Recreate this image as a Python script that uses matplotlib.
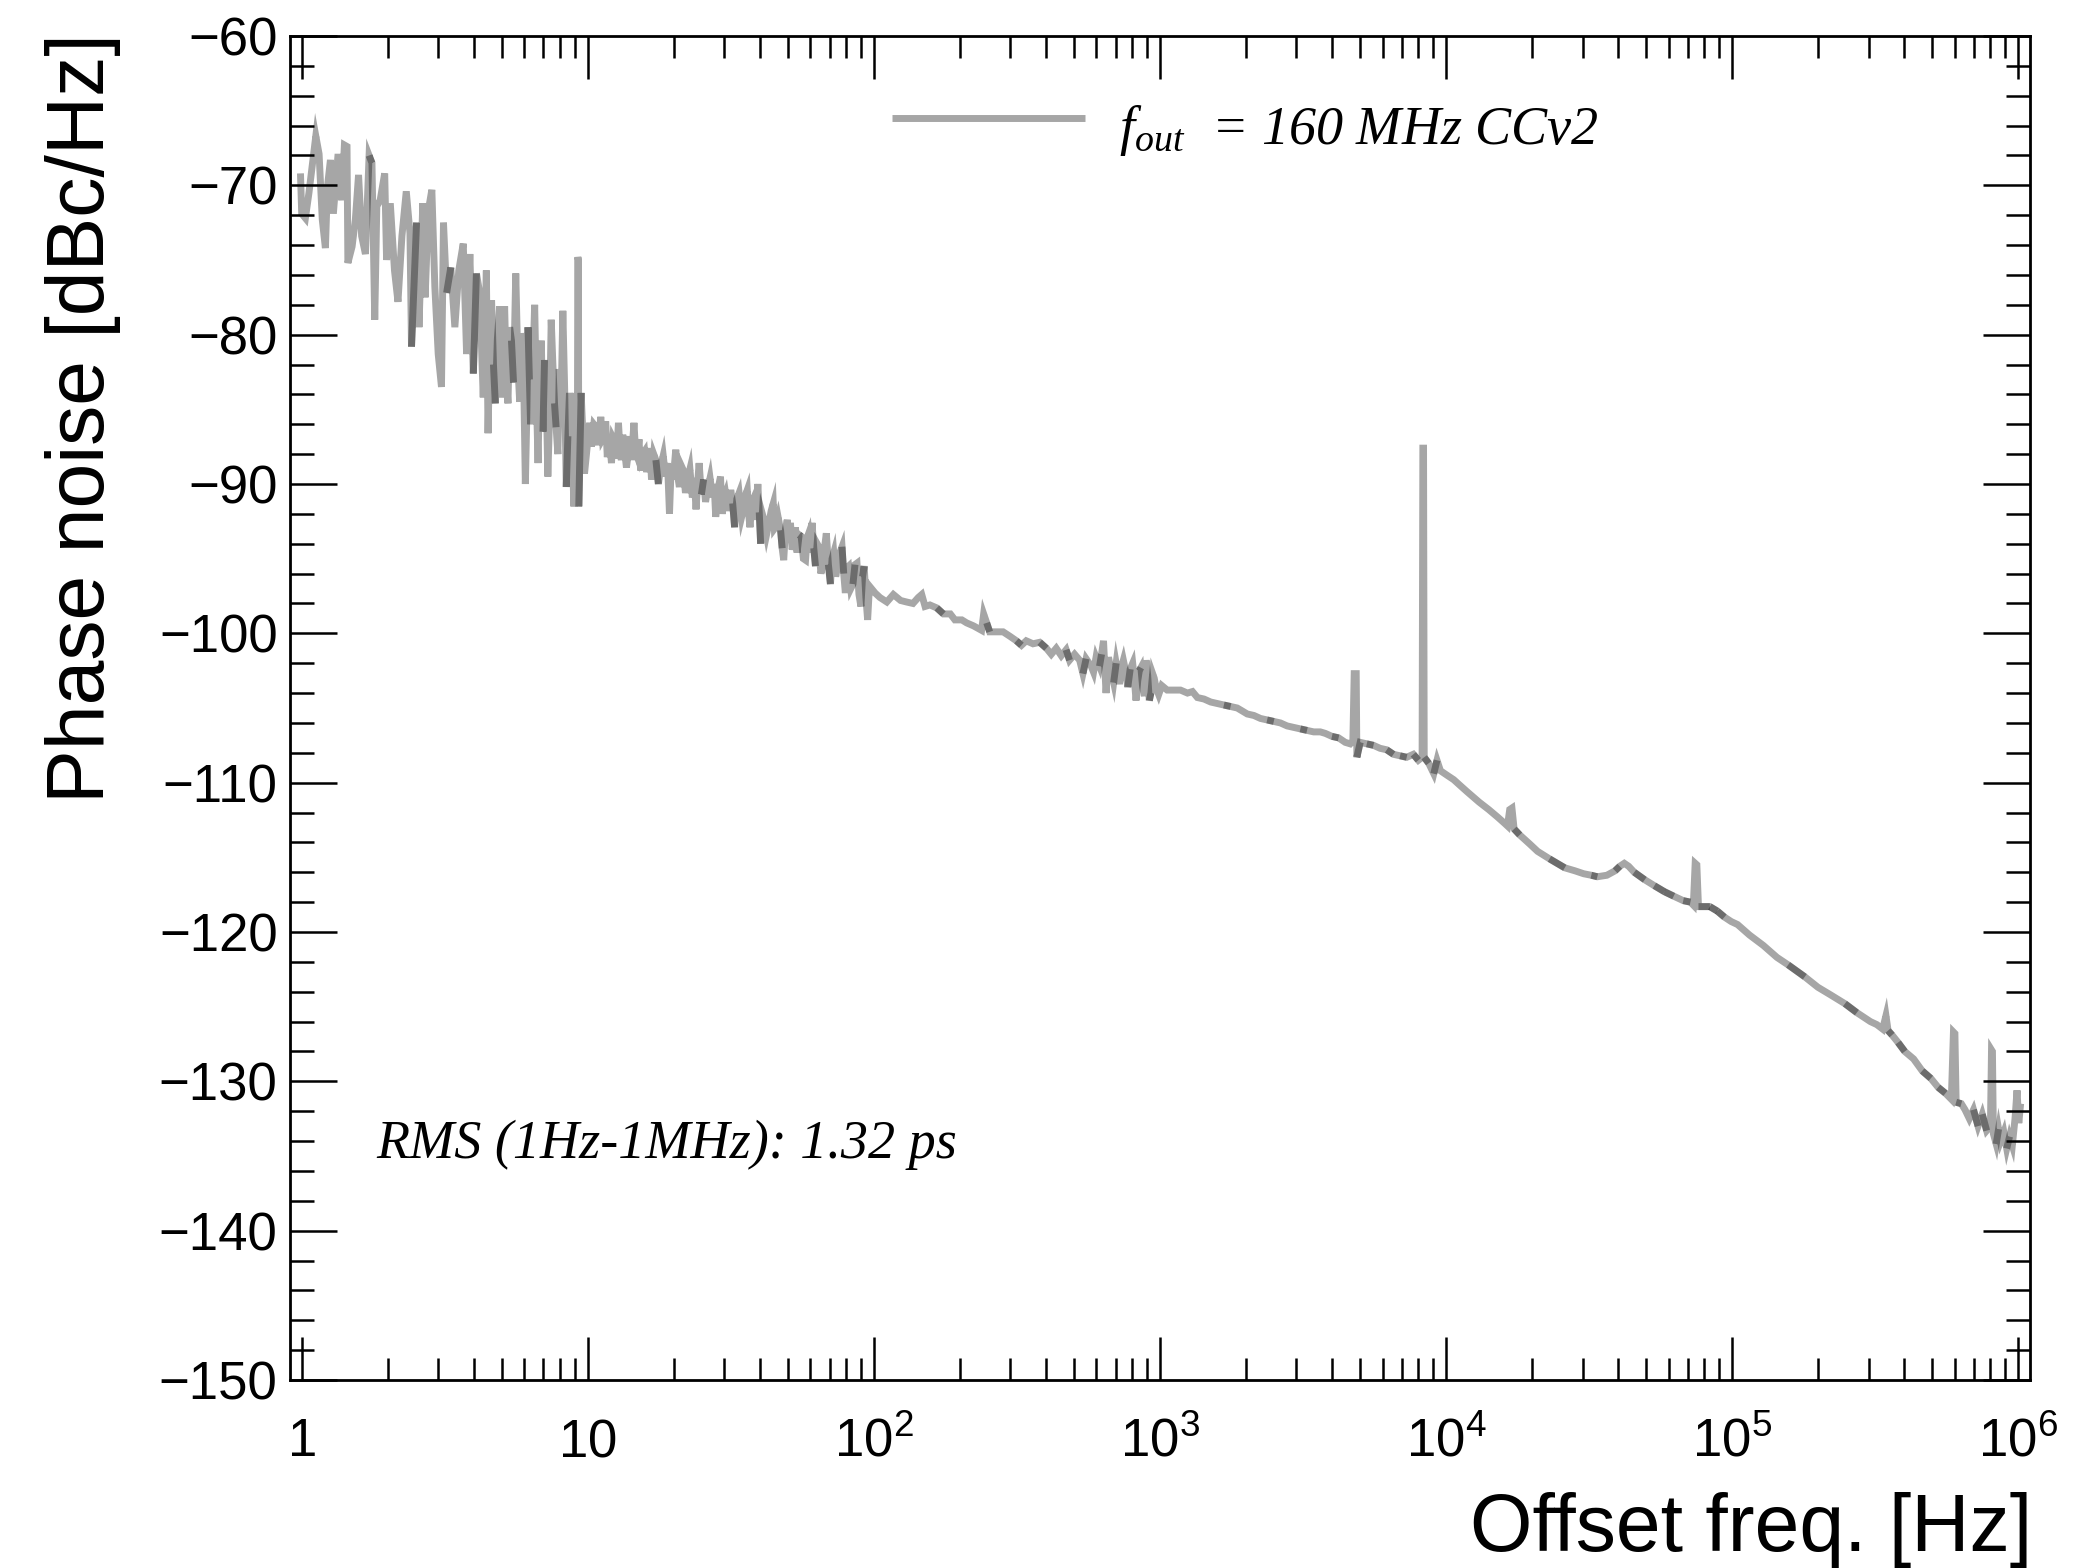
import numpy as np
import matplotlib
matplotlib.use("Agg")
import matplotlib.pyplot as plt
from matplotlib.lines import Line2D
from matplotlib.ticker import FixedLocator, FixedFormatter, LogLocator, NullFormatter, MultipleLocator

# ---------------- data ----------------
# 1 Hz - 10 Hz
freq_a = [0.99, 1.00, 1.03, 1.06, 1.12, 1.15, 1.18, 1.21, 1.23, 1.26,
          1.29, 1.34, 1.38, 1.41, 1.44, 1.45, 1.50, 1.54, 1.58, 1.62,
          1.67, 1.72, 1.76, 1.80, 1.83, 1.88, 1.95, 1.98, 2.04, 2.11,
          2.17, 2.24, 2.32, 2.39, 2.42, 2.52, 2.57, 2.65, 2.70, 2.77,
          2.85, 2.92, 3.00, 3.08, 3.13, 3.21, 3.32, 3.43, 3.54, 3.67,
          3.77, 3.87, 3.98, 4.08, 4.19, 4.31, 4.42, 4.48, 4.55, 4.61,
          4.68, 4.75, 4.83, 4.92, 4.99, 5.05, 5.12, 5.19, 5.26, 5.33,
          5.41, 5.50, 5.60, 5.70, 5.78, 5.86, 5.95, 6.05, 6.12, 6.18,
          6.25, 6.31, 6.42, 6.52, 6.61, 6.70, 6.79, 6.88, 6.97, 7.06,
          7.15, 7.25, 7.35, 7.45, 7.55, 7.65, 7.75, 7.86, 7.95, 8.05,
          8.18, 8.30, 8.41, 8.52, 8.63, 8.78, 8.94, 9.02, 9.11, 9.20,
          9.23, 9.27, 9.30, 9.48, 9.74]
pn_a = [-69.2, -71.9, -72.2, -70.5, -66.7, -67.9, -72.3, -74.2, -70.1, -68.3,
        -71.9, -67.9, -71.0, -67.3, -67.4, -75.2, -74.1, -72.3, -69.3, -73.4,
        -74.6, -68.0, -68.5, -79.0, -71.4, -71.0, -69.2, -75.0, -71.2, -75.7,
        -77.8, -73.4, -70.4, -73.2, -80.8, -72.5, -79.5, -71.2, -77.5, -71.7,
        -70.3, -76.8, -81.3, -83.5, -72.5, -77.2, -75.5, -79.5, -75.7, -73.9,
        -81.3, -74.6, -82.6, -75.9, -77.2, -84.2, -75.7, -86.6, -80.5, -77.7,
        -82.0, -84.6, -80.3, -78.1, -84.2, -81.0, -78.1, -82.8, -84.6, -79.5,
        -80.4, -83.2, -75.9, -82.2, -84.5, -79.9, -81.3, -90.0, -85.5, -79.5,
        -83.0, -86.0, -82.5, -78.0, -84.0, -88.6, -82.8, -80.4, -86.5, -81.7,
        -83.4, -89.5, -85.5, -79.0, -82.0, -84.6, -86.2, -88.0, -82.3, -85.6,
        -78.4, -83.6, -90.2, -86.8, -83.9, -86.0, -91.5, -88.0, -83.9, -86.5,
        -74.8, -75.0, -91.5, -83.9, -89.3]

# 10 Hz - 100 Hz
freq_b = [10.0, 10.15, 10.3, 10.5, 10.7, 10.9, 11.1, 11.25, 11.4, 11.55,
          11.7, 11.9, 12.1, 12.25, 12.4, 12.6, 12.8, 12.95, 13.1, 13.25,
          13.4, 13.65, 13.9, 14.05, 14.2, 14.35, 14.5, 14.7, 14.9, 15.1,
          15.3, 15.55, 15.8, 16.05, 16.3, 16.5, 16.7, 17.0, 17.3, 17.65,
          18.0, 18.35, 18.7, 19.0, 19.3, 19.55, 19.8, 20.05, 20.3, 20.6,
          20.9, 21.25, 21.6, 21.95, 22.3, 22.75, 23.2, 23.55, 23.9, 24.2,
          24.5, 24.95, 25.4, 25.8, 26.2, 26.75, 27.3, 27.65, 28.0, 28.55,
          29.1, 29.3, 29.5, 29.9, 30.3, 30.95, 31.6, 32.1, 32.6, 33.2,
          33.8, 34.5, 35.2, 35.65, 36.1, 36.5, 36.9, 37.5, 38.1, 38.7,
          39.3, 39.75, 40.2, 40.75, 41.3, 42.15, 43.0, 43.75, 44.5, 44.9,
          45.3, 46.25, 47.2, 47.8, 48.4, 49.1, 49.8, 50.45, 51.1, 51.8,
          52.5, 53.2, 53.9, 54.8, 55.7, 56.7, 57.7, 58.45, 59.2, 60.0,
          60.8, 61.65, 62.5, 63.35, 64.2, 65.3, 66.4, 67.3, 68.2, 69.35,
          70.5, 71.45, 72.4, 73.55, 74.7, 76.05, 77.4, 78.45, 79.5, 80.55,
          81.6, 83.05, 84.5, 85.9, 87.3, 88.7, 90.1, 91.3, 92.5, 93.8,
          95.1, 96.1, 97.1]
pn_b = [-87.1, -85.9, -87.5, -86.0, -86.2, -87.4, -85.5, -87.0, -86.8, -85.8,
        -88.2, -87.0, -88.6, -86.9, -87.1, -88.3, -85.9, -87.6, -88.4, -86.7,
        -87.5, -88.9, -87.7, -86.8, -88.4, -87.2, -85.9, -87.9, -88.2, -87.0,
        -89.1, -88.0, -87.8, -89.2, -88.4, -87.6, -89.7, -88.0, -88.4, -90.0,
        -88.8, -88.1, -89.5, -88.6, -92.0, -89.0, -89.7, -88.9, -87.7, -89.4,
        -90.2, -88.8, -89.1, -90.6, -89.7, -89.0, -90.9, -89.6, -91.7, -90.0,
        -88.6, -90.7, -89.7, -91.2, -90.4, -89.6, -90.9, -90.0, -92.2, -90.3,
        -89.5, -91.0, -92.0, -90.9, -90.6, -91.8, -90.4, -91.3, -92.9, -91.0,
        -90.6, -92.2, -91.5, -90.7, -90.4, -92.0, -92.9, -91.2, -90.9, -92.4,
        -90.0, -91.9, -94.0, -92.0, -92.4, -93.4, -92.6, -91.8, -91.3, -93.0,
        -92.9, -92.2, -93.1, -94.3, -95.1, -93.0, -92.4, -93.9, -92.6, -94.4,
        -93.8, -92.9, -94.6, -93.4, -93.5, -95.0, -95.1, -93.6, -93.3, -94.6,
        -92.6, -94.3, -95.5, -94.0, -94.2, -96.0, -95.3, -94.2, -93.3, -95.4,
        -96.7, -95.0, -94.6, -96.2, -95.5, -94.6, -94.2, -96.0, -97.3, -95.6,
        -95.5, -97.0, -96.7, -95.4, -95.3, -97.4, -98.2, -96.2, -95.5, -97.6,
        -99.1, -97.5, -96.9]

# 100 Hz - 1.1 kHz
freq_c = [101, 105, 111, 117, 124, 130, 137, 143, 147, 151,
          157, 166, 175, 185, 192, 203, 211, 223, 238, 242,
          248, 254, 268, 283, 299, 315, 328, 341, 360, 380,
          401, 417, 434, 452, 470, 483, 503, 524, 538, 552,
          575, 586, 598, 615, 625, 635, 648, 661, 675, 689,
          703, 712, 722, 733, 745, 758, 772, 787, 803, 814,
          825, 836, 847, 858, 870, 882, 894, 906, 918, 930,
          943, 955, 968, 990, 1015, 1060, 1130]
pn_c = [-97.3, -97.6, -97.9, -97.4, -97.8, -97.9, -98.0, -97.6, -97.4, -98.2,
        -98.1, -98.3, -98.7, -98.7, -99.1, -99.1, -99.3, -99.5, -99.8, -98.7,
        -99.3, -99.9, -99.9, -99.9, -100.2, -100.5, -100.8, -100.5, -100.7, -100.6,
        -101.0, -101.4, -101.0, -101.5, -101.1, -101.8, -101.4, -101.8, -102.7, -101.7,
        -102.2, -102.6, -101.6, -102.2, -101.4, -100.5, -104.0, -101.6, -102.5, -103.3,
        -102.0, -102.6, -103.4, -102.3, -101.8, -102.5, -103.6, -102.4, -102.0, -103.1,
        -104.5, -103.2, -102.5, -102.3, -103.6, -104.2, -101.8, -102.8, -104.5, -104.0,
        -102.7, -103.0, -103.6, -104.1, -103.5, -103.8, -103.8]

# 1.1 kHz - 12 kHz
freq_d = [1180, 1248, 1299, 1352, 1426, 1505, 1587, 1673, 1766, 1863,
          1940, 2019, 2130, 2246, 2370, 2500, 2637, 2783, 2935, 3097,
          3267, 3447, 3636, 3785, 3993, 4212, 4444, 4625, 4725, 4776,
          4854, 4880, 5013, 5286, 5578, 5883, 6207, 6548, 6908, 7287,
          7688, 8002, 8250, 8300, 8345, 8390, 8700, 9060, 9300, 9560,
          10080, 10640, 11220, 11840]
pn_d = [-103.8, -104.0, -103.9, -104.3, -104.4, -104.6, -104.7, -104.8, -104.9, -105.0,
        -105.2, -105.4, -105.5, -105.7, -105.8, -105.9, -106.0, -106.2, -106.3, -106.4,
        -106.5, -106.6, -106.6, -106.7, -106.9, -107.0, -107.3, -107.4, -107.2, -102.7,
        -102.7, -108.3, -107.3, -107.4, -107.5, -107.7, -107.8, -108.1, -108.2, -108.3,
        -108.1, -108.5, -108.3, -87.6, -87.6, -108.3, -108.7, -109.4, -108.5, -109.2,
        -109.5, -109.8, -110.2, -110.6]

# 13 kHz - 1 MHz
freq_e = [13050, 14100, 15140, 15980, 16400, 16700, 17000, 17300, 18100, 19600,
          20900, 23000, 26000, 28200, 30300, 32200, 33800, 36500, 39000, 40500,
          42000, 43500, 45500, 49500, 53500, 58000, 62500, 67500, 71500, 73200,
          74300, 75300, 76300, 83600, 88800, 94000, 99300, 104500, 115000, 128600,
          143500, 157000, 179500, 199500, 220500, 248000, 273000, 304500, 320500, 336000,
          345000, 351000, 362500, 380500, 401500, 431000, 462000, 495000, 525000, 557000,
          584000, 594000, 601000, 607000, 633000, 652000, 675000, 698000, 724000, 749000,
          776000, 800000, 807000, 813000, 819000, 838000, 854000, 868000, 891000, 912000,
          933000, 954000, 975000, 991000, 1005000, 1020000]
pn_e = [-111.3, -111.8, -112.3, -112.7, -112.9, -111.8, -111.7, -113.1, -113.5, -114.1,
        -114.6, -115.1, -115.7, -115.9, -116.1, -116.2, -116.3, -116.2, -115.9, -115.6,
        -115.4, -115.6, -116.0, -116.5, -116.9, -117.3, -117.6, -117.9, -118.0, -118.2,
        -115.4, -115.5, -118.3, -118.3, -118.6, -119.0, -119.3, -119.5, -120.2, -120.9,
        -121.7, -122.2, -123.0, -123.7, -124.2, -124.8, -125.4, -126.0, -126.2, -126.5,
        -125.6, -126.6, -126.9, -127.4, -128.0, -128.5, -129.3, -129.8, -130.4, -130.8,
        -131.2, -126.7, -126.8, -131.4, -131.5, -131.9, -132.5, -131.9, -133.0, -132.2,
        -133.3, -133.0, -127.9, -128.0, -133.5, -134.2, -133.2, -134.0, -133.4, -134.5,
        -133.7, -134.3, -132.5, -130.6, -132.8, -131.5]

legend_label = r"$\mathregular{f_{out}}$  = 160 MHz CCv2"
rms_label = "RMS (1Hz-1MHz): 1.32 ps"
x_title = "Offset freq. [Hz]"
y_title = "Phase noise [dBc/Hz]"
x_major = [1, 10, 100, 1e3, 1e4, 1e5, 1e6]
x_major_labels = [r"$\mathregular{1}$", r"$\mathregular{10}$", r"$\mathregular{10^{2}}$",
                  r"$\mathregular{10^{3}}$", r"$\mathregular{10^{4}}$",
                  r"$\mathregular{10^{5}}$", r"$\mathregular{10^{6}}$"]

# trace is drawn in overlapping pieces (as in the original rendering)
piece_breaks = [1.75, 2.5, 3.25, 4.0, 4.75, 5.5, 6.25, 7.0, 7.75, 8.5, 9.4,
                17.5, 25, 32.5, 40, 47.5, 55, 62.5, 70, 77.5, 85, 92.5,
                175, 250, 325, 400, 475, 550, 625, 700, 775, 850, 925,
                1750, 2500, 3250, 4000, 4950, 5500, 6250, 7000, 7750, 8500, 9250,
                17500, 25000, 32500, 40000, 47500, 55000, 62500, 70000, 77500, 85000, 92500,
                175000, 250000, 355000, 400000, 475000, 550000, 625000, 700000, 775000, 850000, 925000]

# ---------------- figure ----------------
plt.rcParams["font.family"] = ["Liberation Sans", "DejaVu Sans"]
plt.rcParams["axes.unicode_minus"] = True

W, H = 2096, 1568
fig = plt.figure(figsize=(W / 100, H / 100), dpi=100)
ax = fig.add_axes([290 / W, 1 - 1380 / H, 1740 / W, 1344 / H])

freq = np.array(freq_a + freq_b + freq_c + freq_d + freq_e, dtype=float)
pn = np.array(pn_a + pn_b + pn_c + pn_d + pn_e, dtype=float)
assert len(freq_a) == len(pn_a) and len(freq_b) == len(pn_b)
assert len(freq_c) == len(pn_c) and len(freq_d) == len(pn_d) and len(freq_e) == len(pn_e)
assert np.all(np.diff(freq) > 0)

LW = 5.0
style = dict(color="black", alpha=0.35, lw=LW, solid_joinstyle="miter", solid_capstyle="butt")
idx = [int(np.searchsorted(freq, b)) for b in piece_breaks]
starts = [0] + [i - 1 for i in idx]
ends = idx + [len(freq) - 1]
for s, e in zip(starts, ends):
    ax.plot(freq[s:e + 1], pn[s:e + 1], **style)

ax.set_xscale("log")
ax.set_xlim(0.91, 1.1e6)
ax.set_ylim(-150, -60)

ax.xaxis.set_major_locator(FixedLocator(x_major))
ax.xaxis.set_major_formatter(FixedFormatter(x_major_labels))
ax.xaxis.set_minor_locator(LogLocator(base=10, subs=[2, 3, 4, 5, 6, 7, 8, 9], numticks=50))
ax.xaxis.set_minor_formatter(NullFormatter())
ax.yaxis.set_major_locator(MultipleLocator(10))
ax.yaxis.set_minor_locator(MultipleLocator(2))

for sp in ax.spines.values():
    sp.set_linewidth(2.0)

ax.tick_params(which="both", direction="in", top=True, right=True, width=1.8, colors="black")
ax.tick_params(axis="y", which="major", length=34, labelsize=38, pad=9)
ax.tick_params(axis="y", which="minor", length=17)
ax.tick_params(axis="x", which="major", length=31, labelsize=38, pad=55)
ax.tick_params(axis="x", which="minor", length=16)
for lab in ax.get_xticklabels():
    lab.set_verticalalignment("baseline")

# axis titles (ROOT style: right / top aligned)
fig.text(2032 / W, 1 - 1551 / H, x_title, ha="right", va="baseline", fontsize=58)
fig.text(83 / W, 1 - 33 / H, y_title, rotation=90, ha="center", va="top", fontsize=58)

# legend
fig.add_artist(Line2D([892 / W, 1085 / W], [1 - 118 / H, 1 - 118 / H], transform=fig.transFigure,
                      color="black", alpha=0.35, lw=LW, solid_capstyle="butt"))
fig.text(1119 / W, 1 - 144 / H, legend_label, family="Liberation Serif", style="italic",
         fontsize=39, va="baseline", ha="left")

# RMS annotation
fig.text(376 / W, 1 - 1158 / H, rms_label, family="Liberation Serif", style="italic",
         fontsize=39, va="baseline", ha="left")

fig.savefig("out.png", dpi=100, facecolor="white")
